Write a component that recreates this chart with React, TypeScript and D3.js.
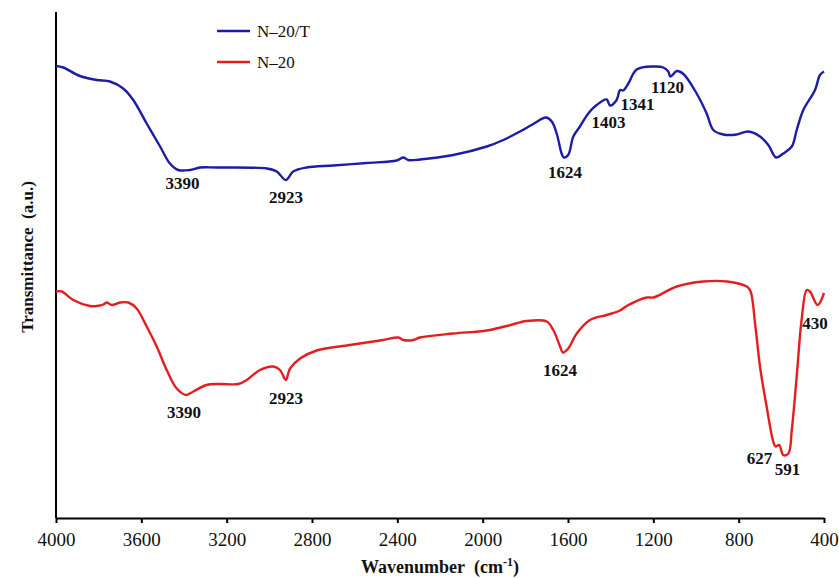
import React, { useEffect, useRef } from "react";
import * as d3 from "d3";

// Wavenumber ticks
const xTicks = [4000, 3600, 3200, 2800, 2400, 2000, 1600, 1200, 800, 400];

// N-20/T (blue) spectrum: wavenumber (cm-1), transmittance (a.u.)
const wnBlue = [4000, 3966, 3888, 3809, 3747, 3685, 3638, 3575, 3512, 3466, 3427, 3372, 3325, 3247, 3012, 2965, 2923, 2888, 2825, 2700, 2544, 2403, 2372, 2349, 2294, 2138, 1981, 1903, 1825, 1763, 1703, 1676, 1653, 1630, 1620, 1599, 1575, 1544, 1505, 1466, 1419, 1403, 1372, 1356, 1341, 1317, 1278, 1200, 1153, 1130, 1120, 1090, 1059, 997, 950, 919, 872, 809, 755, 700, 661, 625, 591, 551, 528, 497, 442, 419, 400];
const tBlue = [90.4, 90.1, 88.4, 87.6, 87.3, 85.9, 83.6, 78.9, 74.3, 70.9, 69.6, 69.6, 70.1, 70.1, 69.9, 69.3, 67.6, 69.3, 70.1, 70.5, 71.0, 71.5, 72.1, 71.6, 71.7, 72.6, 74.3, 75.6, 77.3, 78.8, 80.1, 79.3, 76.9, 72.9, 72.1, 72.6, 76.3, 78.3, 80.9, 82.6, 83.7, 82.5, 83.6, 85.6, 85.5, 86.9, 89.7, 90.3, 90.1, 89.3, 88.3, 89.4, 88.8, 84.9, 80.9, 77.6, 76.7, 76.7, 77.3, 76.3, 74.6, 72.1, 72.9, 74.3, 77.6, 81.6, 85.6, 88.6, 89.3];

// N-20 (red) spectrum
const wnRed = [4000, 3973, 3919, 3841, 3809, 3778, 3762, 3739, 3700, 3661, 3622, 3575, 3528, 3481, 3434, 3390, 3356, 3294, 3231, 3145, 3106, 3044, 2981, 2950, 2923, 2903, 2856, 2778, 2622, 2466, 2395, 2372, 2325, 2294, 2138, 1981, 1887, 1794, 1700, 1669, 1637, 1624, 1599, 1559, 1497, 1419, 1356, 1325, 1231, 1200, 1090, 966, 856, 762, 744, 723, 700, 669, 638, 627, 610, 591, 567, 551, 528, 505, 481, 466, 430, 400];
const tRed = [45.3, 45.3, 43.6, 42.4, 42.4, 42.7, 43.1, 42.6, 43.1, 43.1, 41.9, 38.3, 34.3, 29.6, 25.9, 24.6, 25.3, 26.6, 26.8, 26.8, 27.6, 29.6, 30.3, 29.6, 27.6, 29.9, 31.9, 33.5, 34.6, 35.6, 36.1, 35.6, 35.6, 36.1, 36.9, 37.5, 38.4, 39.4, 39.3, 37.6, 34.3, 33.1, 33.9, 36.9, 39.6, 40.6, 41.5, 42.4, 44.1, 44.1, 46.3, 47.3, 47.3, 46.3, 45.3, 38.9, 30.3, 22.3, 15.3, 14.3, 14.6, 12.6, 12.9, 17.6, 28.3, 39.6, 45.6, 45.3, 42.6, 45.0];

// Peak annotations (text, anchor wavenumber, anchor transmittance)
const blueLabels = ["3390", "2923", "1624", "1403", "1341", "1120"];
const blueLabelWn = [3407, 2922, 1614, 1410, 1274, 1134];
const blueLabelT = [65.8, 63.0, 68.0, 78.0, 81.6, 85.0];
const redLabels = ["3390", "2923", "1624", "627", "591", "430"];
const redLabelWn = [3400, 2922, 1637, 702, 571, 442];
const redLabelT = [20.0, 22.8, 28.4, 10.8, 8.6, 37.8];

const seriesNames = ["N\u201320/T", "N\u201320"];
const seriesColors = ["#1c1ca6", "#e41e20"];

const W = 839;
const H = 578;
const M = { left: 56, right: 15, top: 12, bottom: 60 };
const FONT = "'Liberation Serif', 'Times New Roman', serif";

export default function App() {
  const axisRef = useRef<SVGGElement>(null);

  const x = d3.scaleLinear().domain([4000, 400]).range([M.left, W - M.right]);
  const y = d3.scaleLinear().domain([0, 101.2]).range([H - M.bottom, M.top]);

  const line = d3
    .line<[number, number]>()
    .x((d) => x(d[0]))
    .y((d) => y(d[1]))
    .curve(d3.curveCatmullRom.alpha(0.5));

  const blueData: [number, number][] = wnBlue.map((w, i) => [w, tBlue[i]]);
  const redData: [number, number][] = wnRed.map((w, i) => [w, tRed[i]]);

  useEffect(() => {
    if (!axisRef.current) return;
    const g = d3.select(axisRef.current);
    g.selectAll("*").remove();
    g.call(
      d3
        .axisBottom(x)
        .tickValues(xTicks)
        .tickFormat((d) => String(d))
        .tickSize(5)
        .tickSizeOuter(0)
        .tickPadding(10)
    );
    g.select(".domain").attr("stroke", "#000").attr("stroke-width", 2);
    g.selectAll(".tick line").attr("stroke", "#000").attr("stroke-width", 2);
    g.selectAll(".tick text")
      .attr("fill", "#111")
      .style("font-family", FONT)
      .style("font-size", "19px");
  }, []);

  const labelStyle = {
    fontFamily: FONT,
    fontSize: "17px",
    fontWeight: 700 as const,
    fill: "#111",
  };

  return (
    <svg width={W} height={H} style={{ position: "absolute", left: 0, top: 0 }}>
      <rect x={0} y={0} width={W} height={H} fill="#fff" />
      <line
        x1={x(4000)}
        x2={x(4000)}
        y1={y(101.2)}
        y2={y(0)}
        stroke="#000"
        strokeWidth={2}
      />
      <g ref={axisRef} transform={`translate(0,${y(0)})`} />
      <path d={line(blueData) || ""} fill="none" stroke={seriesColors[0]} strokeWidth={2.4} strokeLinejoin="round" />
      <path d={line(redData) || ""} fill="none" stroke={seriesColors[1]} strokeWidth={2.4} strokeLinejoin="round" />

      {blueLabels.map((t, i) => (
        <text key={"b" + i} x={x(blueLabelWn[i])} y={y(blueLabelT[i])} textAnchor="middle" style={labelStyle}>
          {t}
        </text>
      ))}
      {redLabels.map((t, i) => (
        <text key={"r" + i} x={x(redLabelWn[i])} y={y(redLabelT[i])} textAnchor="middle" style={labelStyle}>
          {t}
        </text>
      ))}

      {seriesNames.map((n, i) => (
        <g key={n} transform={`translate(217,${31 + i * 31})`}>
          <line x1={0} x2={33} y1={0} y2={0} stroke={seriesColors[i]} strokeWidth={2.4} />
          <text x={40} y={6} style={{ fontFamily: FONT, fontSize: "17px", fill: "#111" }}>
            {n}
          </text>
        </g>
      ))}

      <text
        transform={`translate(33,257) rotate(-90)`}
        textAnchor="middle"
        style={{ fontFamily: FONT, fontSize: "17px", fontWeight: 700, fill: "#111" }}
      >
        Transmittance{"\u00a0\u00a0"}(a.u.)
      </text>
      <text
        x={440}
        y={573}
        textAnchor="middle"
        style={{ fontFamily: FONT, fontSize: "18px", fontWeight: 700, fill: "#111" }}
      >
        Wavenumber{"\u00a0\u00a0"}(cm
        <tspan dy={-7} fontSize="12px">-1</tspan>
        <tspan dy={7}>)</tspan>
      </text>
    </svg>
  );
}
